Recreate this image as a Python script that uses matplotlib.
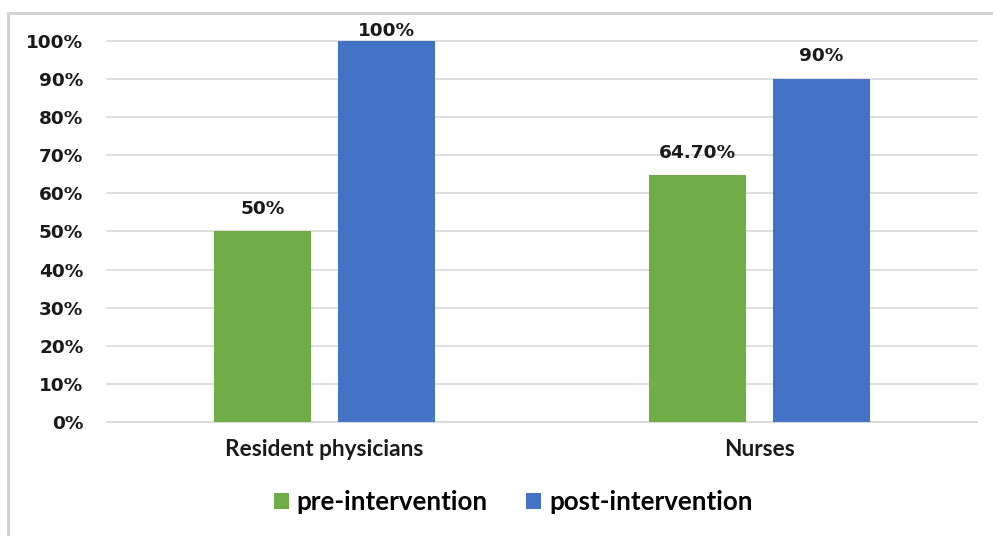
import matplotlib

matplotlib.use("Agg")
import matplotlib.pyplot as plt
import numpy as np
from matplotlib.patches import Rectangle
from matplotlib.ticker import PercentFormatter

categories = ["Resident physicians", "Nurses"]
pre_intervention = [50.0, 64.7]
post_intervention = [100.0, 90.0]
pre_labels = ["50%", "64.70%"]
post_labels = ["100%", "90%"]
series_names = ["pre-intervention", "post-intervention"]

GREEN = "#70AD47"
BLUE = "#4472C4"
GRID = "#D9D9D9"
TEXT = "#1a1a1a"

fig = plt.figure(figsize=(9.93, 5.36), dpi=100)
ax = fig.add_axes([0.1078, 0.2127, 0.8761, 0.7108])

x = np.arange(len(categories))
width = 0.223
shift = 0.1425

bars_pre = ax.bar(x - shift, pre_intervention, width, color=GREEN, label=series_names[0], zorder=3)
bars_post = ax.bar(x + shift, post_intervention, width, color=BLUE, label=series_names[1], zorder=3)

ax.set_xlim(-0.5, len(categories) - 0.5)
ax.set_ylim(0, 100)
ax.set_yticks(np.arange(0, 101, 10))
ax.yaxis.set_major_formatter(PercentFormatter(decimals=0))
ax.grid(axis="y", color=GRID, linewidth=1.2, zorder=0)
ax.grid(axis="x", visible=False)
for line in ax.get_ygridlines():
    line.set_clip_on(False)
for side in ("top", "right", "left"):
    ax.spines[side].set_visible(False)
ax.spines["bottom"].set_color(GRID)
ax.spines["bottom"].set_linewidth(1.2)
ax.tick_params(axis="both", length=0)
ax.tick_params(axis="y", pad=17)
ax.tick_params(axis="x", pad=12)

for lab in ax.get_yticklabels():
    lab.set_fontfamily("DejaVu Sans")
    lab.set_fontweight("bold")
    lab.set_fontsize(13.3)
    lab.set_color(TEXT)

ax.set_xticks(x)
ax.set_xticklabels(categories, fontfamily="Lato", fontweight="bold", fontsize=16.3, color=TEXT)


def label_bars(bars, texts):
    for rect, txt in zip(bars, texts):
        top = rect.get_height()
        # Excel squeezes the label down when it would leave the plot area
        offset = 10 if top < 95 else 0.5
        ax.annotate(
            txt,
            xy=(rect.get_x() + rect.get_width() / 2, top),
            xytext=(0, offset),
            textcoords="offset points",
            ha="center",
            va="bottom",
            fontfamily="DejaVu Sans",
            fontweight="bold",
            fontsize=13.3,
            color=TEXT,
            annotation_clip=False,
        )


label_bars(bars_pre, pre_labels)
label_bars(bars_post, post_labels)

fig.legend(
    loc="center",
    bbox_to_anchor=(0.5166, 0.0634),
    ncol=2,
    frameon=False,
    handlelength=0.58,
    handleheight=0.58,
    handletextpad=0.3,
    columnspacing=1.5,
    borderaxespad=0,
    prop={"family": "Lato", "weight": "bold", "size": 18.6},
)

# chart frame: only top and left edges fall inside the image
fig.patches.append(
    Rectangle(
        (8 / 993, -0.1),
        1.2,
        1.1 - 13 / 536,
        transform=fig.transFigure,
        fill=False,
        edgecolor="#D0D0D0",
        linewidth=2,
    )
)

fig.savefig("out.png", dpi=100)
plt.close(fig)
